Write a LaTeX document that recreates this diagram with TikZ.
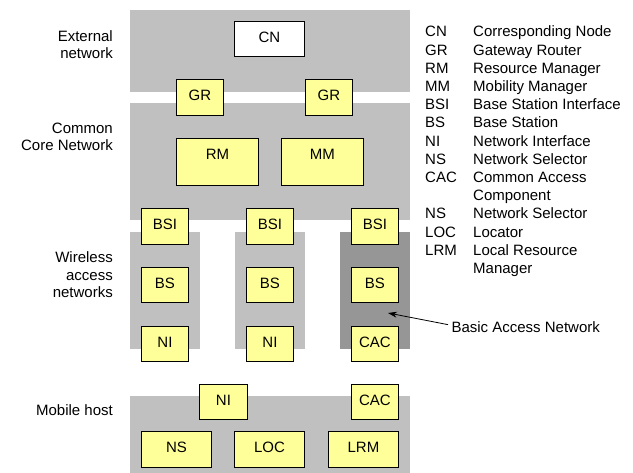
\documentclass[tikz,border=0pt]{standalone}
\usepackage{fontspec}
\setmainfont{Liberation Sans}
\usetikzlibrary{arrows.meta}
\definecolor{lgray}{HTML}{C0C0C0}
\definecolor{dgray}{HTML}{969696}
\definecolor{yel}{HTML}{FFFF99}
\begin{document}
\begin{tikzpicture}[x=1pt,y=-1pt,
  every node/.style={font=\fontsize{15}{18.2}\selectfont},
  box/.style={draw=black, line width=0.9pt, fill=yel, inner sep=0pt,
    anchor=north west, text height=20.6pt},
  sidelabel/.style={align=right, anchor=north east, inner sep=0pt,
    font=\fontsize{15}{17.6}\selectfont},
  area/.style={fill=lgray},
  darea/.style={fill=dgray}]
\useasboundingbox (0,0) rectangle (633,473);
% grey areas
\fill[area] (130,10) rectangle (410,92);
\fill[area] (130,103) rectangle (410,220);
\fill[area] (130,232) rectangle (200,349);
\fill[area] (235,232) rectangle (305,349);
\fill[darea] (340,232) rectangle (410,349);
\fill[area] (130,396) rectangle (410,473);
% external network
\node[box, fill=white, minimum width=70pt, minimum height=35pt, text depth=14.4pt] (cn) at (234,21) {CN};
\node[box, minimum width=47pt, minimum height=36pt, text depth=15.4pt] (gr1) at (176,79) {GR};
\node[box, minimum width=47pt, minimum height=36pt, text depth=15.4pt] (gr2) at (305,79) {GR};
% core
\node[box, minimum width=82pt, minimum height=47pt, text depth=26.4pt] (rm) at (176,138) {RM};
\node[box, minimum width=82pt, minimum height=47pt, text depth=26.4pt] (mm) at (281,138) {MM};
% BSI
\node[box, minimum width=47pt, minimum height=36pt, text depth=15.4pt] (bsi1) at (141,208) {BSI};
\node[box, minimum width=47pt, minimum height=36pt, text depth=15.4pt] (bsi2) at (246,208) {BSI};
\node[box, minimum width=47pt, minimum height=36pt, text depth=15.4pt] (bsi3) at (351,208) {BSI};
% BS
\node[box, minimum width=47pt, minimum height=35pt, text depth=14.4pt] (bs1) at (141,267) {BS};
\node[box, minimum width=47pt, minimum height=35pt, text depth=14.4pt] (bs2) at (246,267) {BS};
\node[box, minimum width=47pt, minimum height=35pt, text depth=14.4pt] (bs3) at (351,267) {BS};
% NI / CAC
\node[box, minimum width=47pt, minimum height=35pt, text depth=14.4pt] (ni1) at (141,326) {NI};
\node[box, minimum width=47pt, minimum height=35pt, text depth=14.4pt] (ni2) at (246,326) {NI};
\node[box, minimum width=47pt, minimum height=35pt, text depth=14.4pt] (cac1) at (351,326) {CAC};
% mobile host
\node[box, minimum width=48pt, minimum height=35pt, text depth=14.4pt] (mni) at (199,384) {NI};
\node[box, minimum width=47pt, minimum height=35pt, text depth=14.4pt] (mcac) at (351,384) {CAC};
\node[box, minimum width=70pt, minimum height=36pt, text depth=15.4pt] (ns) at (141,431) {NS};
\node[box, minimum width=70pt, minimum height=36pt, text depth=15.4pt] (loc) at (234,431) {LOC};
\node[box, minimum width=70pt, minimum height=36pt, text depth=15.4pt] (lrm) at (328,431) {LRM};
% side labels
\node[sidelabel] (lext) at (113,30) {External\\network};
\node[sidelabel] (lcore) at (113,122.5) {Common\\Core Network};
\node[sidelabel] (lwir) at (113,251.5) {Wireless\\access\\networks};
\node[sidelabel] (lmob) at (113,404) {Mobile host};
% legend
\node[anchor=north west, inner sep=0pt] (legend) at (425,24) {%
\begin{tabular}{@{}p{48pt}@{}l@{}}
CN & Corresponding Node\\
GR & Gateway Router\\
RM & Resource Manager\\
MM & Mobility Manager\\
BSI & Base Station Interface\\
BS & Base Station\\
NI & Network Interface\\
NS & Network Selector\\
CAC & Common Access\\
 & Component\\
NS & Network Selector\\
LOC & Locator\\
LRM & Local Resource\\
 & Manager
\end{tabular}};
% basic access network
\node[anchor=base west] (ban) at (448,333) {Basic Access Network};
\coordinate (bantip) at (388,313);
\draw[line width=0.8pt, -{Stealth[length=9pt,width=6pt]}] ([yshift=3pt]ban.west) -- (bantip);
\end{tikzpicture}
\end{document}
